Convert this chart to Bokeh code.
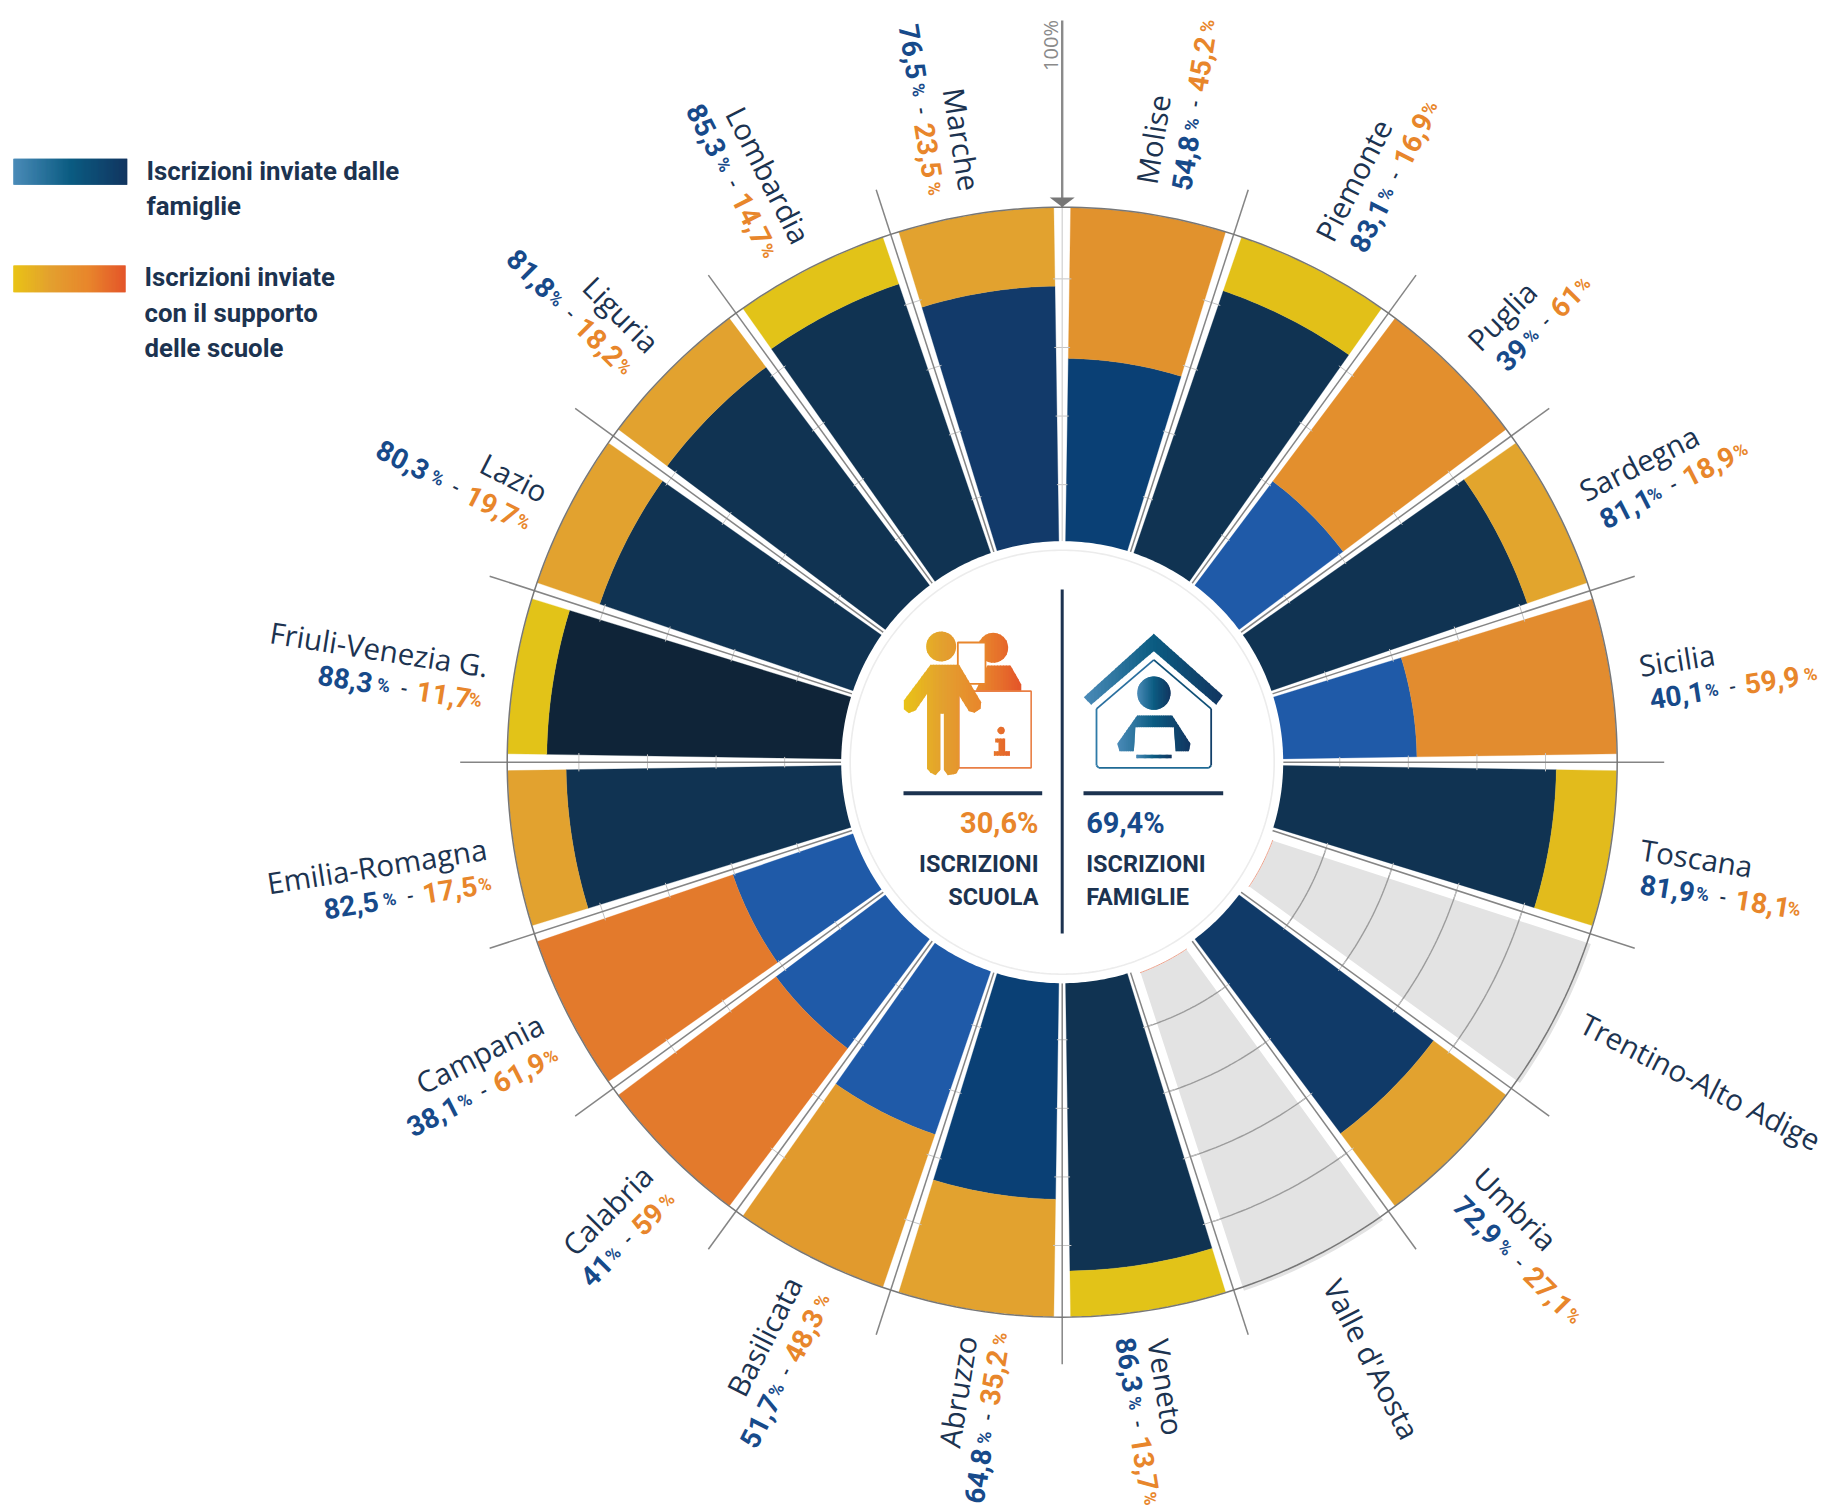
import math
import numpy as np
from bokeh.plotting import figure
from bokeh.models import Range1d
from bokeh.core.properties import value
from bokeh.embed import file_html
from bokeh.resources import INLINE

# ---- data ----
regions = ["Molise", "Piemonte", "Puglia", "Sardegna", "Sicilia", "Toscana",
           "Trentino-Alto Adige", "Umbria", "Valle d'Aosta", "Veneto", "Abruzzo",
           "Basilicata", "Calabria", "Campania", "Emilia-Romagna",
           "Friuli-Venezia G.", "Lazio", "Liguria", "Lombardia", "Marche"]
famiglie = [54.8, 83.1, 39, 81.1, 40.1, 81.9, None, 72.9, None, 86.3, 64.8,
            51.7, 41, 38.1, 82.5, 88.3, 80.3, 81.8, 85.3, 76.5]
scuole = [45.2, 16.9, 61, 18.9, 59.9, 18.1, None, 27.1, None, 13.7, 35.2,
          48.3, 59, 61.9, 17.5, 11.7, 19.7, 18.2, 14.7, 23.5]
blue_colors = ["#0a4075", "#103352", "#1f5aa8", "#103352", "#1f5aa8", "#103352", None,
               "#103a68", None, "#103352", "#0a4075", "#1f5aa8", "#1f5aa8", "#1f5aa8",
               "#103352", "#0f2438", "#103352", "#103352", "#103352", "#123a6a"]
orange_colors = ["#e1922d", "#e2c018", "#e38f2d", "#e2a52d", "#e28c2f", "#e2bb1c", None,
                 "#e2a22f", None, "#e2c318", "#e2a22f", "#e19a2d", "#e37a2c", "#e37a2c",
                 "#e2a22f", "#e2c318", "#e2a22f", "#e2a22f", "#e2c318", "#e2a22f"]
grid_levels = [20, 40, 60, 80]
total_scuola, total_famiglie = "30,6%", "69,4%"

# ---- geometry ----
W, H = 1827, 1510
CX, CY = 1061.7, 761.7
R0, R100 = 221.0, 554.5
G0, G100 = 209.0, 552.0
RIN = 221.0
NAVY = "#1c3350"
BLUE_T = "#174a8a"
ORANGE_T = "#e8862b"
NAME = value("Open Sans")
ROB = value("Roboto")


def rad(v):
    return R0 + (R100 - R0) * v / 100.0


def rad_grid(v):
    return G0 + (G100 - G0) * v / 100.0


def pt(a, r):
    return CX + r * math.sin(a), CY - r * math.cos(a)


def wedge(a0, a1, r0, r1, gap_ang=None, gap_px=None, n=24):
    def off(r):
        return gap_ang if gap_ang is not None else math.asin(gap_px / r)
    xs, ys = [], []
    for t in np.linspace(0, 1, n):
        x, y = pt(a0 + off(r1) + (a1 - a0 - 2 * off(r1)) * t, r1)
        xs.append(x); ys.append(y)
    for t in np.linspace(1, 0, n):
        x, y = pt(a0 + off(r0) + (a1 - a0 - 2 * off(r0)) * t, r0)
        xs.append(x); ys.append(y)
    return xs, ys


p = figure(width=W, height=H, x_range=Range1d(0, W), y_range=Range1d(H, 0),
           output_backend="svg", toolbar_location=None, min_border=0,
           x_axis_type=None, y_axis_type=None, outline_line_color=None,
           background_fill_color="white", border_fill_color="white")
p.grid.visible = False

N = len(regions)
STEP = 2 * math.pi / N
GAP = 0.0152

# sectors
sx, sy, sc = [], [], []
gx, gy = [], []
arcs_x, arcs_y = [], []
salmon_x, salmon_y = [], []
for i, reg in enumerate(regions):
    a0, a1 = i * STEP, (i + 1) * STEP
    if famiglie[i] is None:
        x, y = wedge(a0, a1, 225, 559, gap_px=9.5)
        gx.append(x); gy.append(y)
        for lv in grid_levels:
            r = rad_grid(lv)
            ang = np.linspace(a0, a1, 30)
            arcs_x.append([pt(a, r)[0] for a in ang])
            arcs_y.append([pt(a, r)[1] for a in ang])
        ang = np.linspace(a0 + 0.04, a1 - 0.04, 20)
        salmon_x.append([pt(a, 224.5)[0] for a in ang])
        salmon_y.append([pt(a, 224.5)[1] for a in ang])
    else:
        r = rad(famiglie[i])
        x, y = wedge(a0, a1, R0 - 3, r, gap_ang=GAP)
        sx.append(x); sy.append(y); sc.append(blue_colors[i])
        x, y = wedge(a0, a1, r, R100, gap_ang=GAP)
        sx.append(x); sy.append(y); sc.append(orange_colors[i])

p.patches(gx, gy, fill_color="#e3e3e3", line_color=None)
p.multi_line(arcs_x, arcs_y, line_color="#9c9c9c", line_width=1.4)
p.patches(sx, sy, fill_color=sc, line_color=sc, line_width=0.3)

# tick marks across the gaps
tx, ty = [], []
for i in range(N):
    a = i * STEP
    for lv in grid_levels:
        r = rad_grid(lv)
        g = 0.019
        tx.append([pt(a - g, r)[0], pt(a + g, r)[0]])
        ty.append([pt(a - g, r)[1], pt(a + g, r)[1]])
p.multi_line(tx, ty, line_color="#c4c4c4", line_width=1)

# spokes
spx, spy = [], []
for i in range(1, N):
    a = i * STEP
    x0, y0 = pt(a, RIN); x1, y1 = pt(a, 602)
    spx.append([x0, x1]); spy.append([y0, y1])
p.multi_line(spx, spy, line_color="#858585", line_width=1.5)
p.line([CX, CX], [CY - 555, CY - RIN], line_color="#d0d0d0", line_width=1.2)
p.line([CX, CX], [20, CY - 555], line_color="#8a8a8a", line_width=2.4)
p.patch([CX - 12.5, CX + 12.5, CX], [197, 197, 206.5], fill_color="#777777", line_color=None)

# outer circle
ang = np.linspace(0, 2 * math.pi, 361)
p.line([pt(a, 555)[0] for a in ang], [pt(a, 555)[1] for a in ang], line_color="#777777", line_width=1.5)
p.multi_line(salmon_x, salmon_y, line_color="#eca48f", line_width=1)

# white centre
p.patch([pt(a, RIN)[0] for a in ang], [pt(a, RIN)[1] for a in ang], fill_color="white", line_color=None)
p.line([pt(a, 212)[0] for a in ang], [pt(a, 212)[1] for a in ang], line_color="#ececec", line_width=1.6)


# ---- gradient helpers ----
def hex2rgb(h):
    return tuple(int(h[k:k + 2], 16) for k in (1, 3, 5))


def ramp(stops, t):
    t = max(0.0, min(1.0, t)) * (len(stops) - 1)
    k = min(int(t), len(stops) - 2)
    f = t - k
    a, b = hex2rgb(stops[k]), hex2rgb(stops[k + 1])
    return "#%02x%02x%02x" % tuple(int(round(a[j] + (b[j] - a[j]) * f)) for j in range(3))


def clip_x(poly, lo, hi):
    def clip(pts, inside, cross):
        out = []
        for k in range(len(pts)):
            a, b = pts[k - 1], pts[k]
            if inside(b):
                if not inside(a):
                    out.append(cross(a, b))
                out.append(b)
            elif inside(a):
                out.append(cross(a, b))
        return out

    def crossing(xv):
        return lambda a, b: (xv, a[1] + (b[1] - a[1]) * (xv - a[0]) / (b[0] - a[0]))
    res = clip(poly, lambda q: q[0] >= lo, crossing(lo))
    if res:
        res = clip(res, lambda q: q[0] <= hi, crossing(hi))
    return res


def grad_poly(poly, x0, x1, stops, n=40):
    xs, ys, cs = [], [], []
    for k in range(n):
        lo = x0 + (x1 - x0) * k / n
        hi = x0 + (x1 - x0) * (k + 1) / n
        part = clip_x(poly, lo, hi + 0.8)
        if len(part) >= 3:
            xs.append([q[0] for q in part]); ys.append([q[1] for q in part])
            cs.append(ramp(stops, (k + 0.5) / n))
    p.patches(xs, ys, fill_color=cs, line_color=None)


def Z(x, y):
    return 820 + x / 3.0, 520 + y / 3.0


def zpoly(pts):
    return [Z(*q) for q in pts]


def zcircle(cx, cy, r):
    return [Z(cx + r * math.cos(t), cy + r * math.sin(t)) for t in np.linspace(0, 2 * math.pi, 48, endpoint=False)]


ORANGES = ["#e9c316", "#e3a02f", "#e8862c", "#e4552a"]
BLUES = ["#4b8bb8", "#0b5c82", "#123560"]
ox0, ox1 = Z(250, 0)[0], Z(600, 0)[0]
bx0, bx1 = Z(790, 0)[0], Z(1207, 0)[0]

# school icon
grad_poly(zcircle(518, 382, 45), ox0, ox1, ORANGES)
grad_poly(zpoly([(500, 435), (570, 435), (614, 512), (465, 512)]), ox0, ox1, ORANGES)
x = [Z(*q)[0] for q in [(412, 366), (495, 366), (495, 490), (412, 490)]]
y = [Z(*q)[1] for q in [(412, 366), (495, 366), (495, 490), (412, 490)]]
p.patch(x, y, fill_color="white", line_color="#e8862c", line_width=1.8)
x = [Z(*q)[0] for q in [(415, 512), (632, 512), (632, 742), (415, 742)]]
y = [Z(*q)[1] for q in [(415, 512), (632, 512), (632, 742), (415, 742)]]
p.patch(x, y, fill_color="white", line_color="#e97f45", line_width=1.6)
grad_poly(zcircle(362, 378, 45), ox0, ox1, ORANGES)
person = [(330, 433), (416, 433), (482, 545), (480, 565), (462, 577), (445, 572), (416, 525), (416, 745),
          (407, 760), (382, 764), (370, 748), (370, 580), (360, 580), (360, 748), (345, 764), (330, 757),
          (320, 745), (320, 520), (285, 570), (265, 578), (248, 565), (250, 540)]
grad_poly(zpoly(person), ox0, ox1, ORANGES)
grad_poly(zcircle(542, 630, 11), ox0, ox1, ORANGES)
grad_poly(zpoly([(524, 654), (554, 654), (554, 692), (568, 692), (568, 706), (520, 706),
                 (520, 692), (534, 692), (534, 666), (524, 666)]), ox0, ox1, ORANGES)

# house icon
grad_poly(zpoly([(1000, 340), (1207, 525), (1187, 553), (1000, 392), (812, 553), (790, 530)]), bx0, bx1, BLUES)
house = [(828, 565), (1000, 418), (1172, 565), (1172, 735), (1165, 742), (835, 742), (828, 735), (828, 565)]
hs = zpoly(house)
p.multi_line([[hs[k][0], hs[k + 1][0]] for k in range(len(hs) - 1)],
             [[hs[k][1], hs[k + 1][1]] for k in range(len(hs) - 1)],
             line_color=["#2a6f9f", "#0f5077", "#123f6a", "#175a82", "#1f6a95", "#2f7aa8", "#2f7aa8"],
             line_width=1.8)
grad_poly(zcircle(1000, 518, 50), Z(950, 0)[0], Z(1050, 0)[0], BLUES)
grad_poly(zpoly([(950, 585), (1055, 585), (1110, 670), (1105, 692), (1065, 692), (1060, 620), (945, 620),
                 (940, 692), (897, 692), (890, 670)]), Z(890, 0)[0], Z(1110, 0)[0], BLUES)
grad_poly(zpoly([(947, 703), (1053, 703), (1053, 713), (947, 713)]), Z(947, 0)[0], Z(1053, 0)[0], BLUES)

# centre rules
p.line([CX, CX], [589, 933], line_color=NAVY, line_width=3)
p.line([903, 1041.7], [792.7, 792.7], line_color=NAVY, line_width=4)
p.line([1083, 1222.7], [792.7, 792.7], line_color=NAVY, line_width=4)


def txt(x, y, s, size, color, font=ROB, style="bold", align="left", base="middle", angle=0.0):
    p.text([x], [y], text=[s], text_font=font, text_font_size=f"{size}px", text_font_style=style,
           text_color=color, text_align=align, text_baseline=base, angle=angle, angle_units="rad")


txt(1038, 822.7, total_scuola, 29, ORANGE_T, align="right")
txt(1038, 863, "ISCRIZIONI", 23.5, NAVY, align="right")
txt(1038, 896, "SCUOLA", 23.5, NAVY, align="right")
txt(1085.7, 822.7, total_famiglie, 29, BLUE_T)
txt(1085.7, 863, "ISCRIZIONI", 23.5, NAVY)
txt(1085.7, 896, "FAMIGLIE", 23.5, NAVY)


# legend
def bar(x0, x1, y0, y1, stops, n=114):
    e = np.linspace(x0, x1, n + 1)
    p.quad(left=e[:-1], right=np.minimum(e[1:] + 1, x1), top=[y0] * n, bottom=[y1] * n,
           fill_color=[ramp(stops, (k + 0.5) / n) for k in range(n)], line_color=None)


bar(12.7, 126.7, 158.3, 184.3, BLUES)
bar(12.7, 125, 265, 291.7, ORANGES)
LEG = 25.8
txt(146, 170.7, "Iscrizioni inviate dalle", LEG, NAVY)
txt(146, 205, "famiglie", LEG, NAVY)
txt(144, 276.7, "Iscrizioni inviate", LEG, NAVY)
txt(144, 312.7, "con il supporto", LEG, NAVY)
txt(144, 347, "delle scuole", LEG, NAVY)

txt(1050, 45, "100%", 20, "#8a8a8a", font=NAME, style="normal", align="center", angle=math.pi / 2)

# region labels
CW = {",": 0.27, "1": 0.45}


def width(s, size):
    return sum(CW.get(c, 0.575) for c in s) * size


def fmt(v):
    return f"{v:g}".replace(".", ",")


V_SIZE, P_SIZE, D_SIZE = 28, 18, 18
# small screen nudges of individual labels
NAME_NUDGE = {"Marche": (-6, 4), "Molise": (-3, 0), "Trentino-Alto Adige": (-3, -2)}
VALUE_NUDGE = {"Marche": (-6, 4), "Molise": (-3, 6), "Veneto": (0, -12), "Abruzzo": (0, -10)}
for i, reg in enumerate(regions):
    a = (i + 0.5) * STEP
    right = a < math.pi
    ux, uy = math.sin(a), -math.cos(a)
    tx_, ty_ = (ux, uy) if right else (-ux, -uy)
    bx, by = -ty_, tx_
    rot = (math.pi / 2 - a) if right else (3 * math.pi / 2 - a)
    dx, dy = NAME_NUDGE.get(reg, (0, 0))
    rn = 585 if right else 582
    nx, ny = CX + rn * ux - 5 * bx + dx, CY + rn * uy - 5 * by + dy
    txt(nx, ny, reg, 29.5, NAVY, font=NAME, style="normal", align="left" if right else "right", angle=rot)
    if famiglie[i] is None:
        continue
    vf, vs = fmt(famiglie[i]), fmt(scuole[i])
    parts = [(vf, V_SIZE, BLUE_T, width(vf, V_SIZE) + 4),
             ("%", P_SIZE, BLUE_T, 16 + 8),
             ("-", D_SIZE, NAVY, 7 + 9),
             (vs, V_SIZE, ORANGE_T, width(vs, V_SIZE) + 4),
             ("%", P_SIZE, ORANGE_T, 16)]
    total = sum(q[3] for q in parts)
    rv = 590 if right else 580
    dx, dy = VALUE_NUDGE.get(reg, (0, 0))
    lx, ly = CX + rv * ux + 30 * bx + dx, CY + rv * uy + 30 * by + dy
    if not right:
        lx -= total * tx_
        ly -= total * ty_
    for s, size, col, w in parts:
        txt(lx, ly, s, size, col, font=ROB, align="left", base="alphabetic", angle=rot)
        lx += w * tx_
        ly += w * ty_

open("out.html", "w").write(file_html(p, INLINE))
